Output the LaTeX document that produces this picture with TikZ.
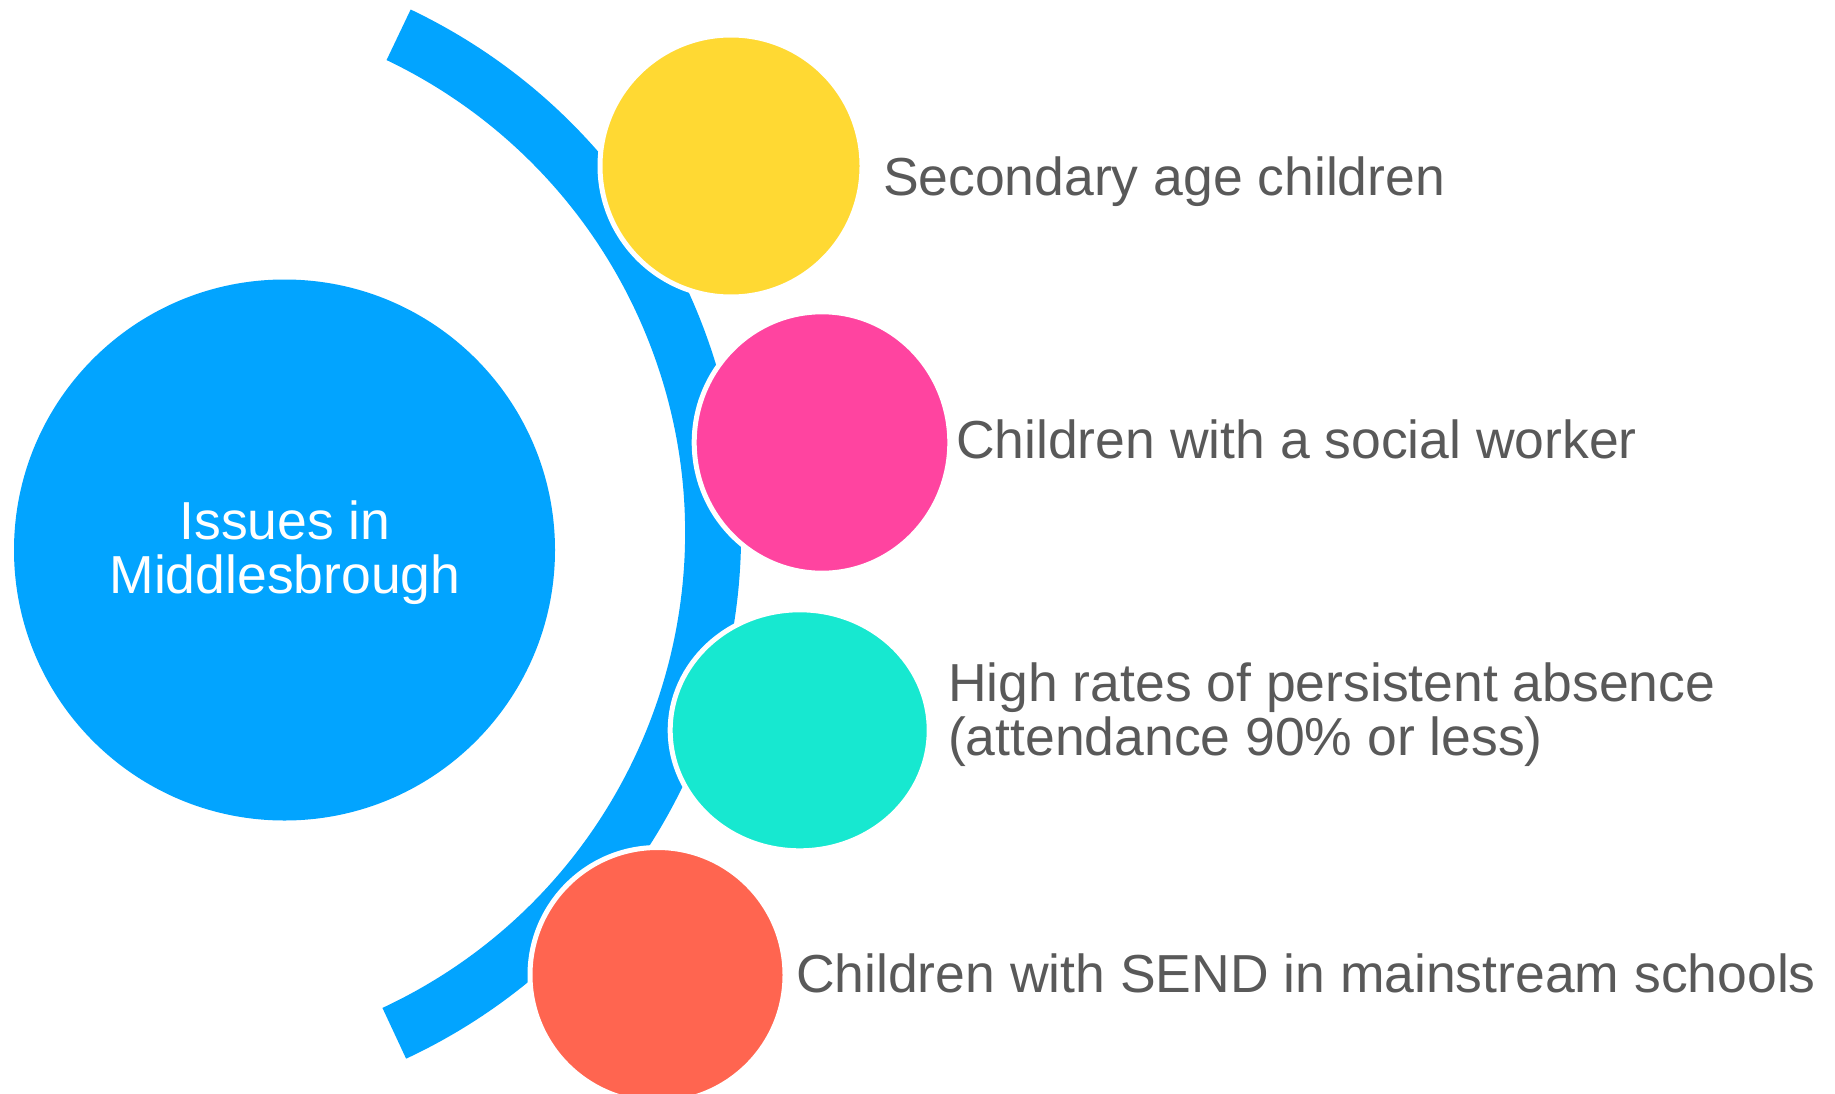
\documentclass[tikz,border=0pt]{standalone}
\usepackage{fontspec}
\setmainfont{Liberation Sans}
\usetikzlibrary{shapes.geometric,calc}
\definecolor{bandblue}{RGB}{2,164,255}
\definecolor{cyellow}{RGB}{255,217,51}
\definecolor{cpink}{RGB}{255,68,160}
\definecolor{cteal}{RGB}{23,232,208}
\definecolor{ccoral}{RGB}{255,101,80}
\definecolor{textgray}{RGB}{89,89,89}
\begin{document}
\begin{tikzpicture}[x=1pt,y=-1pt,
  bubble/.style={circle, inner sep=0pt, outer sep=0pt, draw=white, line width=5pt},
  ebubble/.style={ellipse, inner sep=0pt, outer sep=0pt, draw=white, line width=5pt},
  txt/.style={anchor=base west, inner sep=0pt, outer sep=0pt, text=textgray, font=\fontsize{53.5}{53.5}\selectfont}
]
\clip (0,0) rectangle (1835,1094);
\fill[white] (0,0) rectangle (1835,1094);
% arc band
\coordinate (bc) at (161,533);
\fill[bandblue] ($(bc)+(-64.5:580)$) arc[start angle=-64.5, end angle=65, radius=580]
  -- ($(bc)+(65:524)$) arc[start angle=65, end angle=-64.5, radius=524] -- cycle;
% main circle
\node[circle, fill=bandblue, minimum size=541pt, inner sep=0pt, outer sep=0pt] (main) at (284.5,550) {};
\node[anchor=base, inner sep=0pt, text=white, font=\fontsize{53.5}{54}\selectfont] (maintxt) at (285,539)
  {\begin{tabular}[t]{@{}c@{}}Issues in\\Middlesbrough\end{tabular}};
% bubbles
\node[bubble, fill=cyellow, minimum size=262pt] (sec) at (731,166) {};
\node[ebubble, fill=cpink, minimum width=255.6pt, minimum height=261.4pt] (soc) at (822,442.5) {};
\node[ebubble, fill=cteal, minimum width=259pt, minimum height=241pt] (abs) at (799.7,730.3) {};
\node[bubble, fill=ccoral, minimum size=255pt] (send) at (657.5,975) {};
% labels
\node[txt] (sectxt) at (883,196) {Secondary age children};
\node[txt] (soctxt) at (956,458.5) {Children with a social worker};
\node[txt] (abstxt) at (948,701) {\begin{tabular}[t]{@{}l@{}}High rates of persistent absence\\(attendance 90\% or less)\end{tabular}};
\node[txt] (sendtxt) at (796,992) {Children with SEND in mainstream schools};
\end{tikzpicture}
\end{document}
